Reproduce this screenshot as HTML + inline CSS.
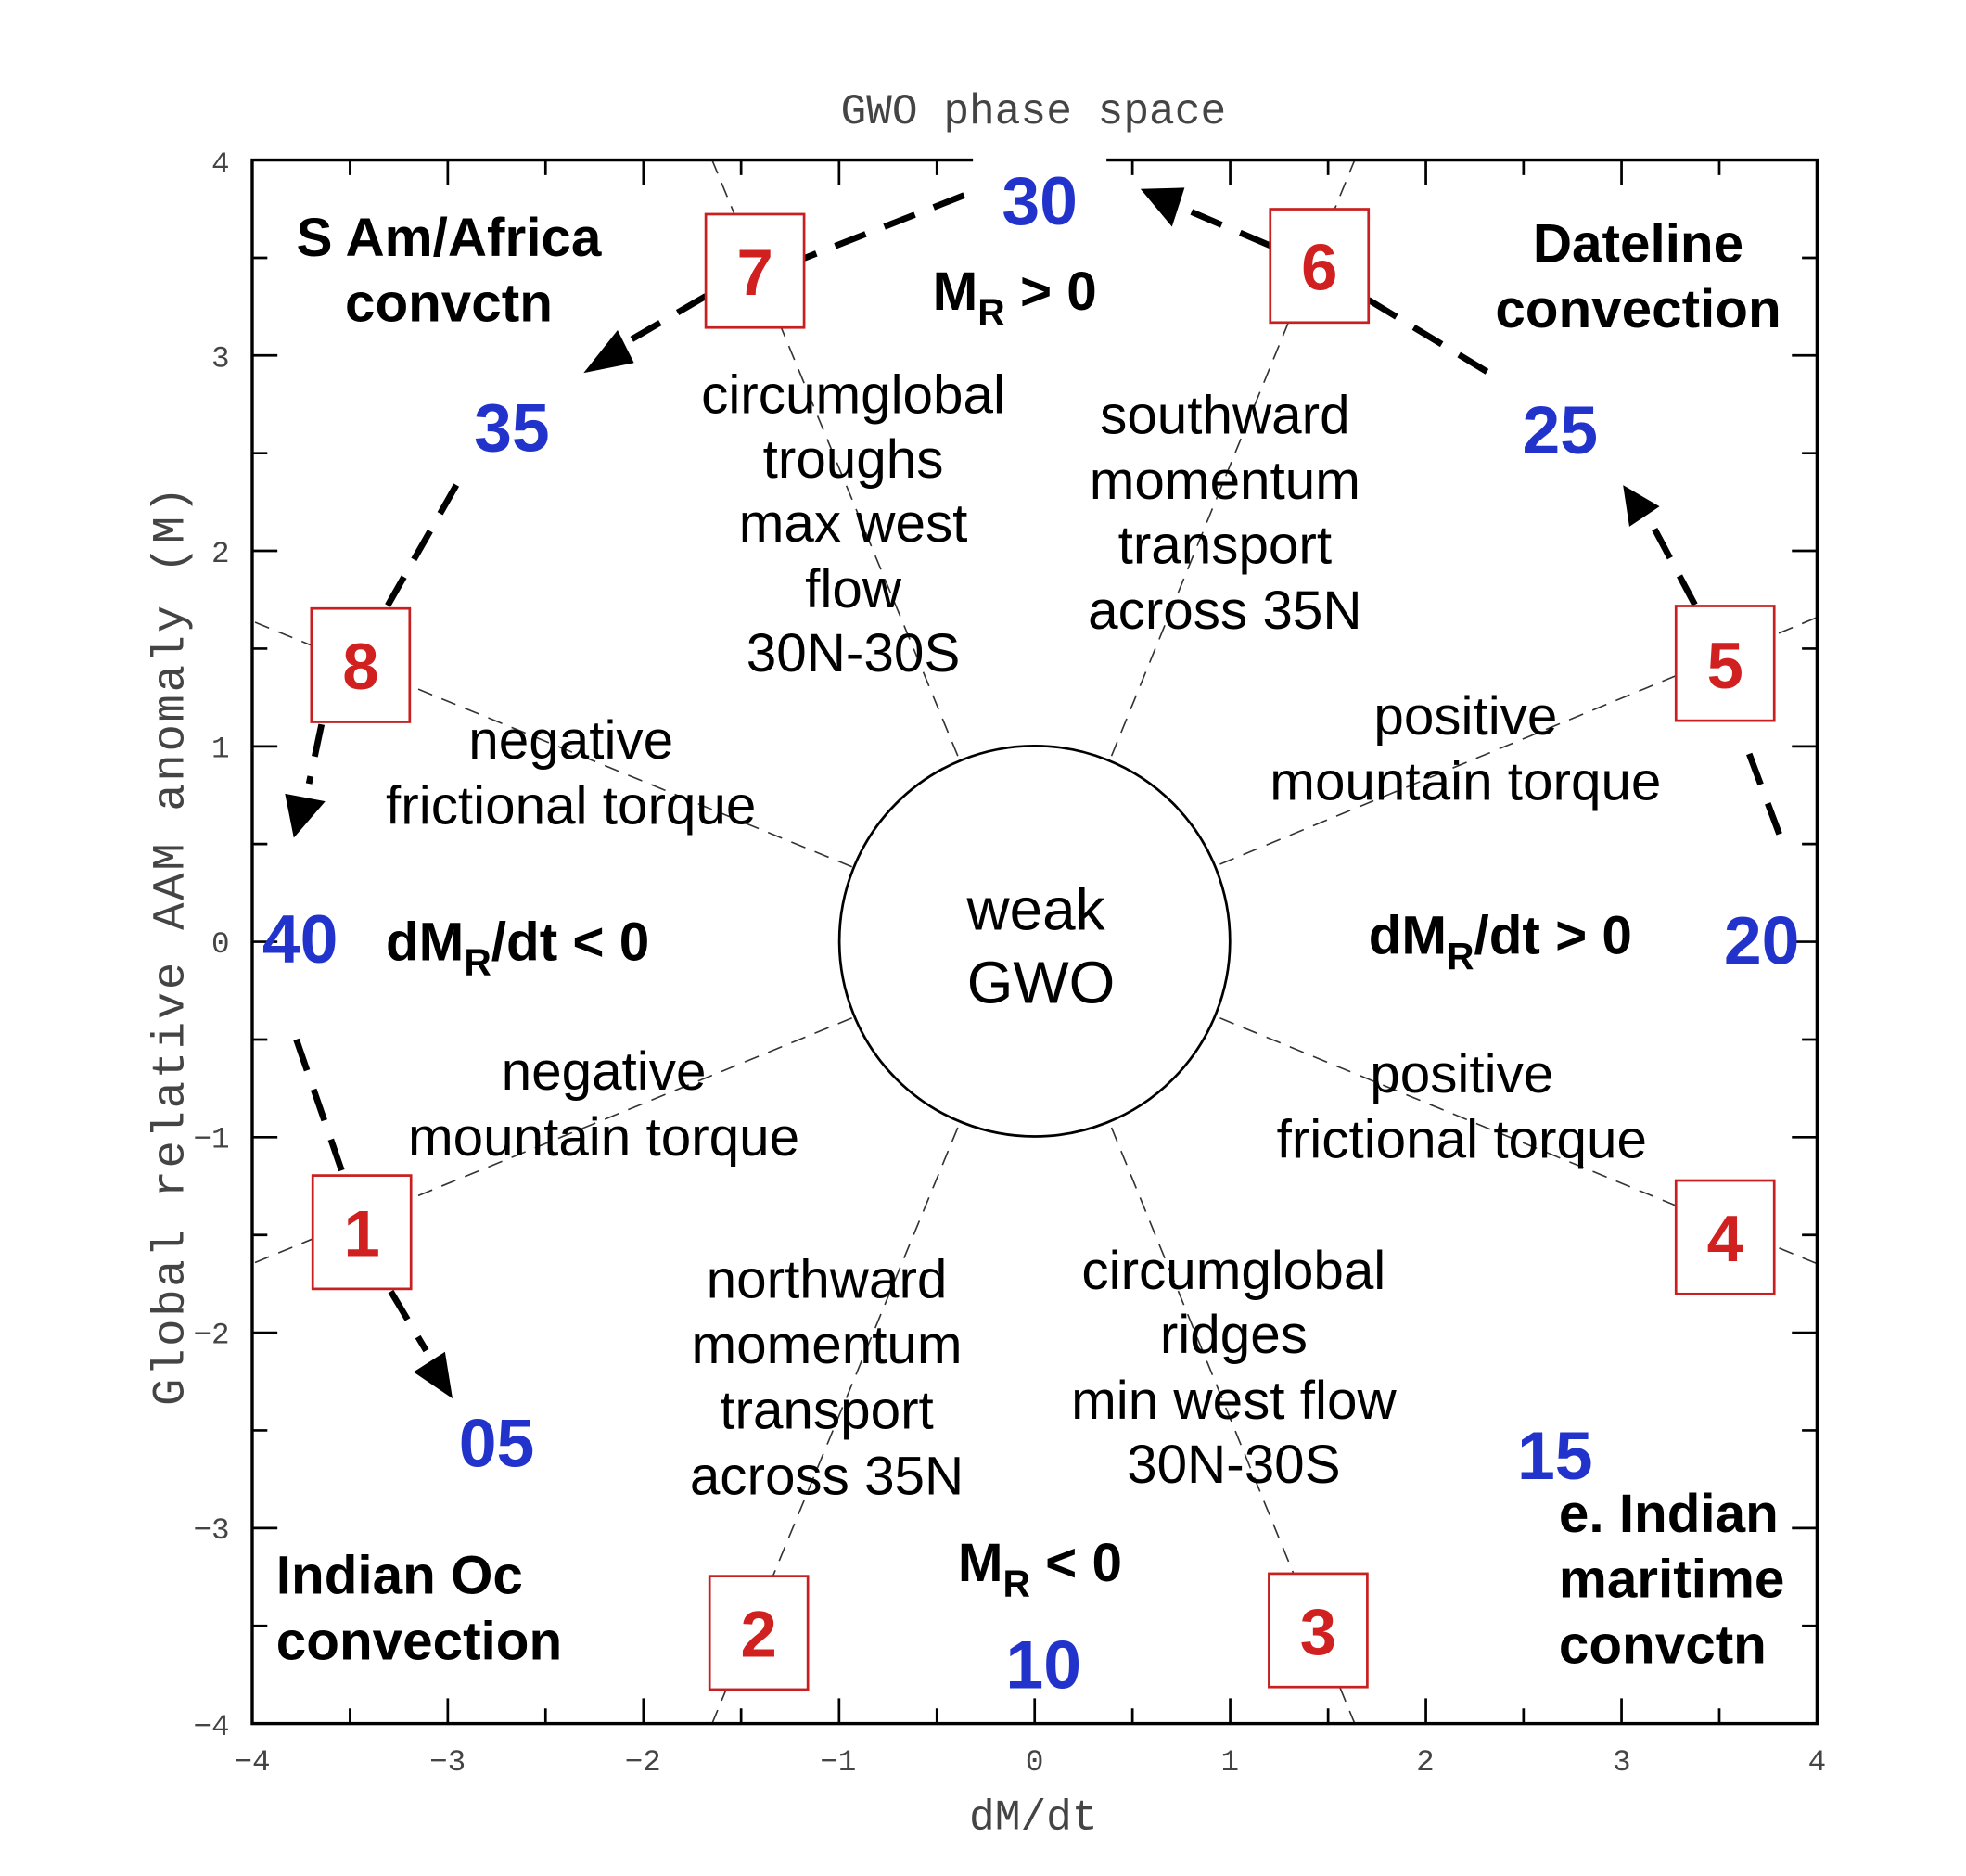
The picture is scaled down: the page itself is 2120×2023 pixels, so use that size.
<!DOCTYPE html>
<html><head><meta charset="utf-8"><style>
html,body{margin:0;padding:0;background:#fff;}
svg{display:block;}
.tk{font-family:"Liberation Mono",monospace;font-size:24px;fill:#444;}
.r{font-family:"Liberation Sans",sans-serif;font-size:43px;fill:#000;text-anchor:middle;}
.b{font-family:"Liberation Sans",sans-serif;font-size:43px;font-weight:bold;fill:#000;}
.bl{font-family:"Liberation Sans",sans-serif;font-size:54px;font-weight:bold;fill:#2233cc;text-anchor:middle;}
.rd{font-family:"Liberation Sans",sans-serif;font-size:52px;font-weight:bold;fill:#d02020;text-anchor:middle;}
.bx{fill:#fff;stroke:#c82020;stroke-width:2;}
.dl{stroke:#333;stroke-width:1.2;stroke-dasharray:12 8;fill:none;}
.ar{stroke:#000;stroke-width:5;stroke-dasharray:26 16;fill:none;}
</style></head><body>
<svg width="2120" height="2023" viewBox="0 0 1560 1489" xmlns="http://www.w3.org/2000/svg">
<rect width="1560" height="1489" fill="#fff"/>
<line class="dl" x1="968" y1="686" x2="1442" y2="490"/>
<line class="dl" x1="676" y1="688" x2="200" y2="493"/>
<line class="dl" x1="676" y1="808" x2="200" y2="1003"/>
<line class="dl" x1="968" y1="808" x2="1442" y2="1003"/>
<line class="dl" x1="760" y1="600" x2="565" y2="127"/>
<line class="dl" x1="882" y1="600" x2="1075" y2="127"/>
<line class="dl" x1="760" y1="895" x2="565" y2="1368"/>
<line class="dl" x1="882" y1="895" x2="1075" y2="1368"/>
<rect x="200" y="127" width="1242" height="1241" fill="none" stroke="#000" stroke-width="2.5"/>
<g stroke="#000" stroke-width="2">
<path d="M277.6 127v12M355.2 127v20M432.8 127v12M510.5 127v20M588 127v12M665.8 127v20M743.4 127v12M821 127v20M898.6 127v12M976.2 127v20M1053.9 127v12M1131.5 127v20M1209 127v12M1286.8 127v20M1364.4 127v12"/>
<path d="M277.6 1368v-12M355.2 1368v-20M432.8 1368v-12M510.5 1368v-20M588 1368v-12M665.8 1368v-20M743.4 1368v-12M821 1368v-20M898.6 1368v-12M976.2 1368v-20M1053.9 1368v-12M1131.5 1368v-20M1209 1368v-12M1286.8 1368v-20M1364.4 1368v-12"/>
<path d="M200 204.6h12M200 282.1h20M200 359.7h12M200 437.2h20M200 514.8h12M200 592.4h20M200 669.9h12M200 747.5h20M200 825.1h12M200 902.6h20M200 980.2h12M200 1057.8h20M200 1135.3h12M200 1212.9h20M200 1290.4h12"/>
<path d="M1442 204.6h-12M1442 282.1h-20M1442 359.7h-12M1442 437.2h-20M1442 514.8h-12M1442 592.4h-20M1442 669.9h-12M1442 747.5h-20M1442 825.1h-12M1442 902.6h-20M1442 980.2h-12M1442 1057.8h-20M1442 1135.3h-12M1442 1212.9h-20M1442 1290.4h-12"/>
</g>
<g class="tk" text-anchor="end">
<text x="182" y="137">4</text><text x="182" y="291">3</text><text x="182" y="446">2</text><text x="182" y="601">1</text><text x="182" y="756">0</text><text x="182" y="911">−1</text><text x="182" y="1066">−2</text><text x="182" y="1221">−3</text><text x="182" y="1377">−4</text>
</g>
<g class="tk" text-anchor="middle">
<text x="200" y="1405">−4</text><text x="355" y="1405">−3</text><text x="510" y="1405">−2</text><text x="665" y="1405">−1</text><text x="821" y="1405">0</text><text x="976" y="1405">1</text><text x="1131" y="1405">2</text><text x="1287" y="1405">3</text><text x="1442" y="1405">4</text>
</g>
<text x="820" y="98" text-anchor="middle" style="font-family:'Liberation Mono',monospace;font-size:34px;fill:#444;">GWO phase space</text>
<text x="820" y="1452" text-anchor="middle" style="font-family:'Liberation Mono',monospace;font-size:34px;fill:#444;">dM/dt</text>
<text transform="translate(145,750) rotate(-90)" text-anchor="middle" style="font-family:'Liberation Mono',monospace;font-size:36px;fill:#444;letter-spacing:2px;">Global relative AAM anomaly (M)</text>
<circle cx="821" cy="747" r="155" fill="#fff" stroke="#000" stroke-width="2"/>
<text class="r" x="822" y="738" style="font-size:47px">weak</text>
<text class="r" x="826" y="796" style="font-size:47px">GWO</text>
<path class="ar" d="M765 155 L638 205"/>
<path class="ar" d="M560 235 L500 270"/>
<polygon points="463,296 490,262 503,288"/>
<path class="ar" d="M1008 195 L945 168"/>
<polygon points="905,150 940,149 930,180"/>
<path class="ar" d="M1180 295 L1086 238"/>
<path class="ar" d="M1345 480 L1312 418"/>
<polygon points="1288,385 1317,402 1293,418"/>
<path class="ar" d="M1412 662 L1385 590"/>
<path class="ar" d="M362 385 L305 485"/>
<path class="ar" d="M255 575 L245 622"/>
<polygon points="233,665 226,630 258,636"/>
<path class="ar" d="M235 825 L273 935"/>
<path class="ar" d="M310 1025 L338 1072"/>
<polygon points="359,1110 328,1089 353,1073"/>
<rect x="772" y="118" width="106" height="74" fill="#fff"/>
<text class="bl" x="825" y="178">30</text>
<text class="bl" x="406" y="358">35</text>
<text class="bl" x="238" y="764">40</text>
<text class="bl" x="394" y="1164">05</text>
<text class="bl" x="828" y="1340">10</text>
<text class="bl" x="1234" y="1174">15</text>
<text class="bl" x="1398" y="765">20</text>
<rect x="1186" y="305" width="104" height="70" fill="#fff"/>
<text class="bl" x="1238" y="360">25</text>
<rect class="bx" x="560" y="170" width="78" height="90"/><text class="rd" x="599" y="234">7</text>
<rect class="bx" x="1008" y="166" width="78" height="90"/><text class="rd" x="1047" y="230">6</text>
<rect class="bx" x="247" y="483" width="78" height="90"/><text class="rd" x="286" y="547">8</text>
<rect class="bx" x="1330" y="481" width="78" height="91"/><text class="rd" x="1369" y="546">5</text>
<rect class="bx" x="248" y="933" width="78" height="90"/><text class="rd" x="287" y="997">1</text>
<rect class="bx" x="1330" y="937" width="78" height="90"/><text class="rd" x="1369" y="1001">4</text>
<rect class="bx" x="563" y="1251" width="78" height="90"/><text class="rd" x="602" y="1315">2</text>
<rect class="bx" x="1007" y="1249" width="78" height="90"/><text class="rd" x="1046" y="1313">3</text>
<g class="r">
<text x="677" y="328">circumglobal</text><text x="677" y="379">troughs</text><text x="677" y="430">max west</text><text x="677" y="482">flow</text><text x="677" y="533">30N-30S</text>
<text x="972" y="344">southward</text><text x="972" y="396">momentum</text><text x="972" y="447">transport</text><text x="972" y="499">across 35N</text>
<text x="453" y="602">negative</text><text x="453" y="654">frictional torque</text>
<text x="1163" y="583">positive</text><text x="1163" y="635">mountain torque</text>
<text x="479" y="865">negative</text><text x="479" y="917">mountain torque</text>
<text x="1160" y="867">positive</text><text x="1160" y="919">frictional torque</text>
<text x="656" y="1030">northward</text><text x="656" y="1082">momentum</text><text x="656" y="1134">transport</text><text x="656" y="1186">across 35N</text>
<text x="979" y="1023">circumglobal</text><text x="979" y="1074">ridges</text><text x="979" y="1126">min west flow</text><text x="979" y="1177">30N-30S</text>
</g>
<g class="b">
<text x="356" y="203" text-anchor="middle">S Am/Africa</text><text x="356" y="255" text-anchor="middle">convctn</text>
<text x="1300" y="208" text-anchor="middle">Dateline</text><text x="1300" y="260" text-anchor="middle">convection</text>
<text x="219" y="1265">Indian Oc</text><text x="219" y="1317">convection</text>
<text x="1237" y="1216">e. Indian</text><text x="1237" y="1268">maritime</text><text x="1237" y="1320">convctn</text>
<text x="740" y="246">M<tspan font-size="30" dy="12">R</tspan><tspan dy="-12"> &gt; 0</tspan></text>
<text x="760" y="1255">M<tspan font-size="30" dy="12">R</tspan><tspan dy="-12"> &lt; 0</tspan></text>
<text x="306" y="762">dM<tspan font-size="30" dy="12">R</tspan><tspan dy="-12">/dt &lt; 0</tspan></text>
<text x="1086" y="757">dM<tspan font-size="30" dy="12">R</tspan><tspan dy="-12">/dt &gt; 0</tspan></text>
</g>
</svg>
</body></html>
